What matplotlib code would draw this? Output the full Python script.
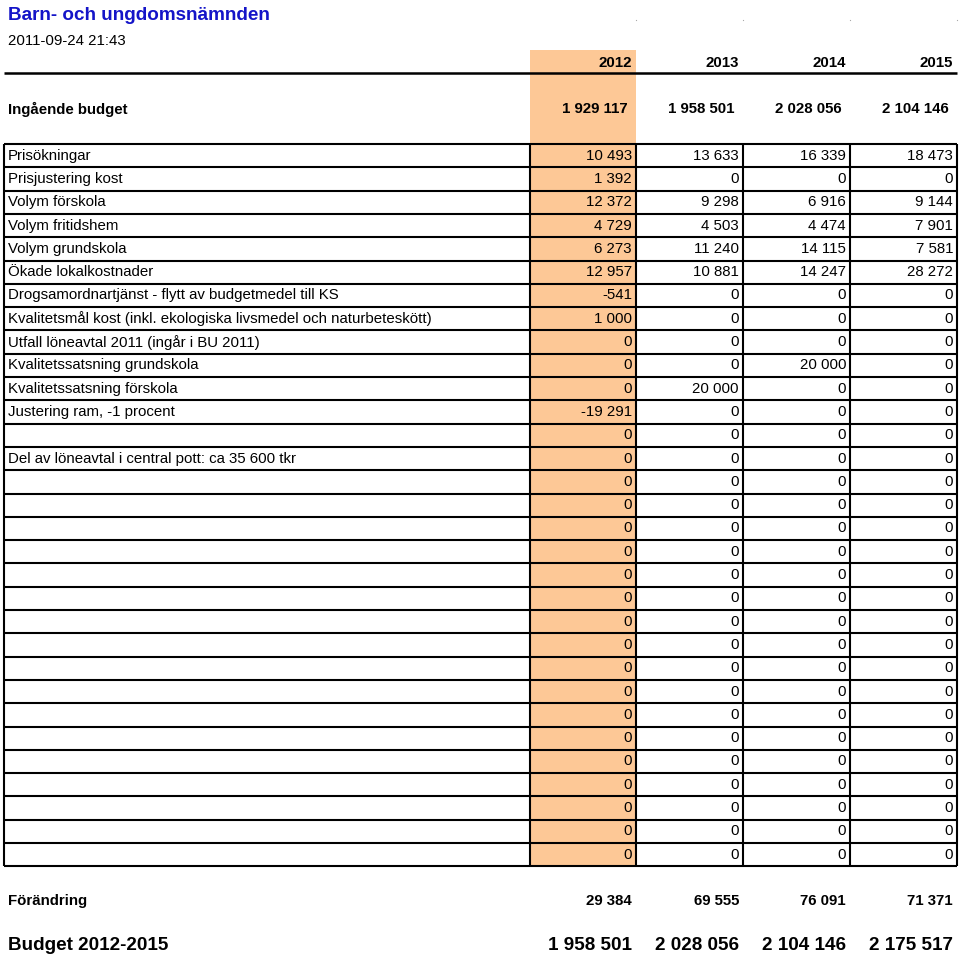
#!/usr/bin/env python3

import matplotlib
matplotlib.use("Agg")
import matplotlib.pyplot as plt
from matplotlib.patches import Rectangle

plt.rcParams['font.family'] = ['Liberation Sans', 'DejaVu Sans']

# data
# ---------------------------
title = "Barn- och ungdomsnämnden"
stamp = "2011-09-24 21:43"
years = ["2012", "2013", "2014", "2015"]
ingaende = [1929117, 1958501, 2028056, 2104146]

row_labels = [
    "Prisökningar",
    "Prisjustering kost",
    "Volym förskola",
    "Volym fritidshem",
    "Volym grundskola",
    "Ökade lokalkostnader",
    "Drogsamordnartjänst - flytt av budgetmedel till KS",
    "Kvalitetsmål kost (inkl. ekologiska livsmedel och naturbeteskött)",
    "Utfall löneavtal 2011 (ingår i BU 2011)",
    "Kvalitetssatsning grundskola",
    "Kvalitetssatsning förskola",
    "Justering ram, -1 procent",
    "",
    "Del av löneavtal i central pott: ca 35 600 tkr",
    "", "", "", "", "", "", "", "", "", "", "", "", "", "", "", "", "",
]
v2012 = [10493, 1392, 12372, 4729, 6273, 12957, -541, 1000, 0, 0, 0, -19291, 0, 0,
         0, 0, 0, 0, 0, 0, 0, 0, 0, 0, 0, 0, 0, 0, 0, 0, 0]
v2013 = [13633, 0, 9298, 4503, 11240, 10881, 0, 0, 0, 0, 20000, 0, 0, 0,
         0, 0, 0, 0, 0, 0, 0, 0, 0, 0, 0, 0, 0, 0, 0, 0, 0]
v2014 = [16339, 0, 6916, 4474, 14115, 14247, 0, 0, 0, 20000, 0, 0, 0, 0,
         0, 0, 0, 0, 0, 0, 0, 0, 0, 0, 0, 0, 0, 0, 0, 0, 0]
v2015 = [18473, 0, 9144, 7901, 7581, 28272, 0, 0, 0, 0, 0, 0, 0, 0,
         0, 0, 0, 0, 0, 0, 0, 0, 0, 0, 0, 0, 0, 0, 0, 0, 0]
forandring = [29384, 69555, 76091, 71371]
budget = [1958501, 2028056, 2104146, 2175517]


def fmt(v):
    return f"{v:,}".replace(",", " ")


# layout (pixel coordinates, y downwards)
# ---------------------------
left, right = 4, 957
col_edges = [530, 636, 743, 850, 957]
table_top, row_h = 144, 23.3
n_rows = len(row_labels)
table_bottom = table_top + n_rows * row_h
pad = 4
fs = 10.8
big = 13.6

fig = plt.figure(figsize=(9.6, 9.6), dpi=100)
ax = fig.add_axes([0, 0, 1, 1])
ax.set_xlim(0, 960)
ax.set_ylim(960, 0)
ax.axis("off")

# highlighted 2012 column
ax.add_patch(Rectangle((col_edges[0], 50), col_edges[1] - col_edges[0],
                       table_bottom - 50, facecolor="#FDC896", edgecolor="none", zorder=0))

# title block
ax.text(8, 16, title, color="#1414C8", fontsize=13.6, fontweight="bold", va="center")
ax.text(8, 41, stamp, fontsize=fs, va="center")
for x in col_edges[1:]:
    ax.plot(x, 20, marker="s", ms=0.8, color="#aaaaaa", mew=0)

# header
for i, y in enumerate(years):
    ax.text(col_edges[i + 1] - pad, 63, y, fontsize=fs, fontweight="bold",
            ha="right", va="center")
ax.plot([left, right], [73, 73], color="black", lw=1.8, solid_capstyle="butt")

ax.text(8, 109, "Ingående budget", fontsize=fs, fontweight="bold", va="center")
for i, v in enumerate(ingaende):
    ax.text(col_edges[i + 1] - 8, 109, fmt(v), fontsize=fs, fontweight="bold",
            ha="right", va="center")

# table grid
for r in range(n_rows + 1):
    y = table_top + r * row_h
    ax.plot([left, right], [y, y], color="black", lw=1.5, solid_capstyle="butt")
for x in [left] + col_edges:
    ax.plot([x, x], [table_top, table_bottom], color="black", lw=1.5,
            solid_capstyle="butt")

cols = [v2012, v2013, v2014, v2015]
for r, lab in enumerate(row_labels):
    yc = table_top + (r + 0.5) * row_h
    if lab:
        ax.text(8, yc, lab, fontsize=fs, va="center")
    for i, col in enumerate(cols):
        ax.text(col_edges[i + 1] - pad, yc, fmt(col[r]), fontsize=fs,
                ha="right", va="center")

# summary rows
ax.text(8, 901, "Förändring", fontsize=fs, fontweight="bold", va="center")
for i, v in enumerate(forandring):
    ax.text(col_edges[i + 1] - pad, 901, fmt(v), fontsize=fs, fontweight="bold",
            ha="right", va="center")

ax.text(8, 946, "Budget 2012-2015", fontsize=big, fontweight="bold", va="center")
for i, v in enumerate(budget):
    ax.text(col_edges[i + 1] - pad, 946, fmt(v), fontsize=big, fontweight="bold",
            ha="right", va="center")

fig.savefig("out.png", dpi=100)
